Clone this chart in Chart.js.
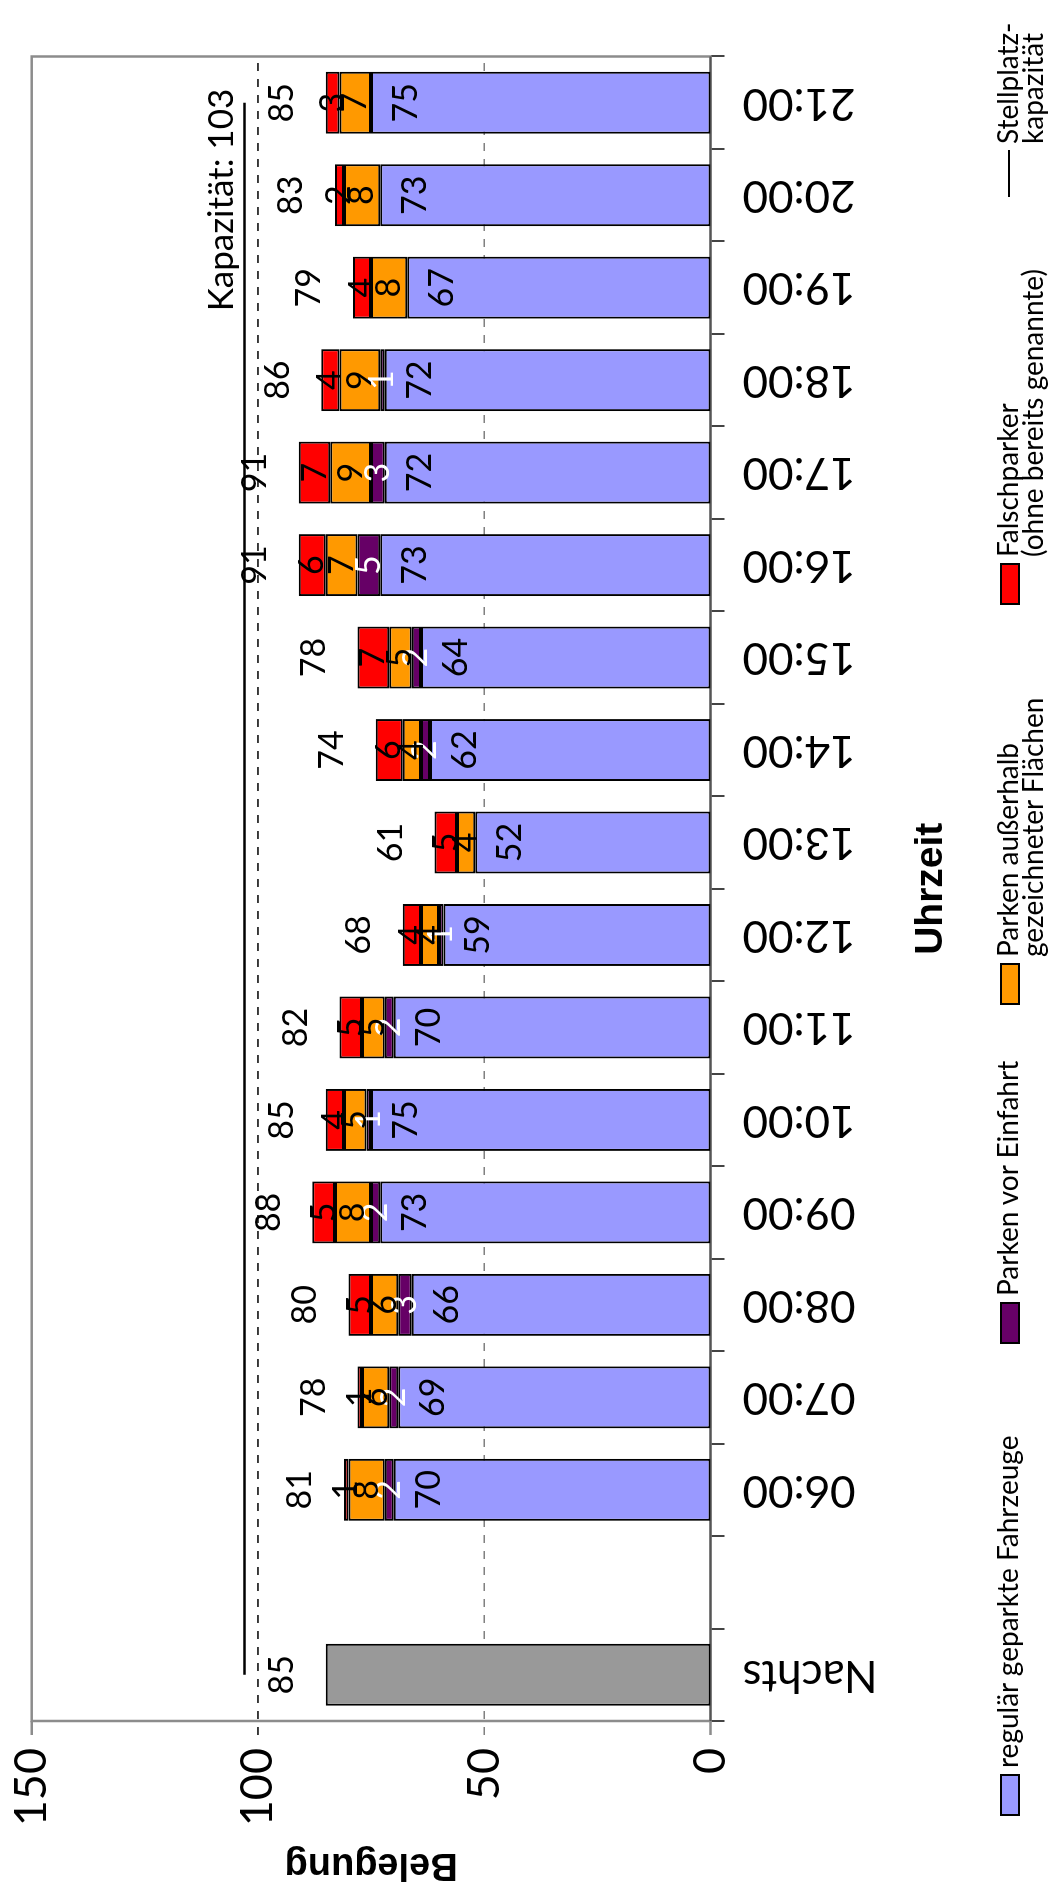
<!DOCTYPE html>
<html>
<head>
<meta charset="utf-8">
<title>Belegung nach Uhrzeit</title>
<script src="https://cdn.jsdelivr.net/npm/chart.js@4.4.0/dist/chart.umd.min.js"></script>
<style>
    html, body { margin: 0; padding: 0; background: #fff; overflow: hidden; }
    /* chart is laid out landscape and turned a quarter to the left */
    #page {
        position: absolute; left: 0; top: 0;
        width: 1898px; height: 1057px;
        transform-origin: 0 0;
        transform: translateY(1898px) rotate(-90deg);
    }
    #chart { position: absolute; left: 0; top: 0; }
    .leg-text {
        position: absolute;
        font-family: Lato, sans-serif; font-size: 28px; line-height: 25px;
        color: #000; white-space: nowrap;
    }
    .leg-box { position: absolute; border: 2px solid #000; box-sizing: border-box; }
    .leg-line { position: absolute; height: 2px; background: #000; }
</style>
</head>
<body>
<div id="page">
    <canvas id="chart" width="1898" height="1057"></canvas>
    <div id="legend"></div>
</div>
<script>
/* Belegung je Uhrzeit — gestapelte Säulen */

const categories = ["Nachts", "", "06:00", "07:00", "08:00", "09:00", "10:00", "11:00", "12:00",
    "13:00", "14:00", "15:00", "16:00", "17:00", "18:00", "19:00", "20:00", "21:00"];
const nachts      = [85, null, null, null, null, null, null, null, null, null, null, null, null, null, null, null, null, null];
const regulaer    = [null, null, 70, 69, 66, 73, 75, 70, 59, 52, 62, 64, 73, 72, 72, 67, 73, 75];
const vorEinfahrt = [null, null, 2, 2, 3, 2, 1, 2, 1, 0, 2, 2, 5, 3, 1, 0, 0, 0];
const ausserhalb  = [null, null, 8, 6, 6, 8, 5, 5, 4, 4, 4, 5, 7, 9, 9, 8, 8, 7];
const falsch      = [null, null, 1, 1, 5, 5, 4, 5, 4, 5, 6, 7, 6, 7, 4, 4, 2, 3];
const kapazitaet = 103;
const valueTicks = [0, 50, 100, 150];

const legendItems = [
    { text: ["regulär geparkte Fahrzeuge"], color: "#9999FF" },
    { text: ["Parken vor Einfahrt"], color: "#660066" },
    { text: ["Parken außerhalb", "gezeichneter Flächen"], color: "#FF9900" },
    { text: ["Falschparker", "(ohne bereits genannte)"], color: "#FF0000" },
    { text: ["Stellplatz-", "kapazität"], line: true }
];
const legendLeft = [82, 554, 893, 1293, 1701];

const capacityLine = categories.map(() => kapazitaet);

const FONT = "Lato, sans-serif";

function barSet(label, data, color) {
    return {
        label: label,
        data: data,
        backgroundColor: color,
        borderColor: "#000",
        borderWidth: 2,
        borderSkipped: false,
        barPercentage: 0.67,
        categoryPercentage: 1,
        stack: "belegung"
    };
}

const framePlugin = {
    id: "frame",
    beforeDatasetsDraw(chart) {
        const { ctx, chartArea: a } = chart;
        const y = chart.scales.y;
        ctx.save();
        // dashed reference lines at 50 and 100
        [[50, "#808080"], [100, "#000"]].forEach(([v, col]) => {
            const py = y.getPixelForValue(v);
            ctx.strokeStyle = col;
            ctx.lineWidth = 1.5;
            ctx.setLineDash([8, 8]);
            ctx.beginPath();
            ctx.moveTo(a.left - 14, py);
            ctx.lineTo(a.right, py);
            ctx.stroke();
        });
        ctx.setLineDash([]);
        // outer frame
        ctx.strokeStyle = "#8c8c8c";
        ctx.lineWidth = 2.5;
        ctx.strokeRect(a.left, a.top, a.right - a.left, a.bottom - a.top);
        ctx.beginPath();
        ctx.moveTo(a.left - 14, a.top);
        ctx.lineTo(a.left, a.top);
        ctx.moveTo(a.left - 14, a.bottom);
        ctx.lineTo(a.left, a.bottom);
        ctx.stroke();
        // zero axis
        ctx.strokeStyle = "#555";
        ctx.lineWidth = 2;
        ctx.beginPath();
        ctx.moveTo(a.left, a.bottom);
        ctx.lineTo(a.right, a.bottom);
        ctx.stroke();
        ctx.restore();
    }
};

const labelPlugin = {
    id: "valueLabels",
    afterDatasetsDraw(chart) {
        const { ctx } = chart;
        const y = chart.scales.y;
        const x = chart.scales.x;
        ctx.save();
        ctx.font = "34px " + FONT;
        ctx.textAlign = "center";
        ctx.textBaseline = "middle";

        // segment values (datasets 1..4)
        [1, 2, 3, 4].forEach(di => {
            const meta = chart.getDatasetMeta(di);
            const data = chart.data.datasets[di].data;
            meta.data.forEach((el, i) => {
                const v = data[i];
                if (v == null || v === 0) return;
                const ty = di === 1 ? el.y + 35 : (el.y + el.base) / 2;
                ctx.fillStyle = di === 2 ? "#fff" : "#000";
                ctx.fillText(String(v), el.x, ty);
            });
        });

        // totals above each column
        ctx.fillStyle = "#000";
        categories.forEach((c, i) => {
            const total = [nachts, regulaer, vorEinfahrt, ausserhalb, falsch]
                .reduce((s, arr) => s + (arr[i] || 0), 0);
            if (!total) return;
            ctx.fillText(String(total), x.getPixelForValue(i), y.getPixelForValue(total) - 43.5);
        });

        // capacity caption
        ctx.textAlign = "right";
        ctx.textBaseline = "alphabetic";
        ctx.font = "35px " + FONT;
        ctx.fillText("Kapazität: " + kapazitaet, x.getPixelForValue(categories.length - 1) + 14,
            y.getPixelForValue(kapazitaet) - 11);
        ctx.restore();
    }
};

function buildLegend() {
    const box = document.getElementById("legend");
    legendItems.forEach((item, k) => {
        const left = legendLeft[k];
        if (item.line) {
            const ln = document.createElement("div");
            ln.className = "leg-line";
            ln.style.left = left + "px";
            ln.style.width = "47px";
            ln.style.top = "1008px";
            box.appendChild(ln);
        } else {
            const sw = document.createElement("div");
            sw.className = "leg-box";
            sw.style.left = left + "px";
            sw.style.top = "1000px";
            sw.style.width = "42px";
            sw.style.height = "20px";
            sw.style.background = item.color;
            box.appendChild(sw);
        }
        const t = document.createElement("div");
        t.className = "leg-text";
        t.style.left = (left + (item.line ? 53 : 48)) + "px";
        t.style.top = "995px";
        t.innerHTML = item.text.join("<br>");
        box.appendChild(t);
    });
}

document.addEventListener("DOMContentLoaded", () => {
    buildLegend();

    new Chart(document.getElementById("chart"), {
        type: "bar",
        data: {
            labels: categories,
            datasets: [
                barSet("Nachts", nachts, "#999999"),
                barSet("regulär geparkte Fahrzeuge", regulaer, "#9999FF"),
                barSet("Parken vor Einfahrt", vorEinfahrt, "#660066"),
                barSet("Parken außerhalb gezeichneter Flächen", ausserhalb, "#FF9900"),
                barSet("Falschparker", falsch, "#FF0000"),
                {
                    type: "line",
                    label: "Stellplatzkapazität",
                    data: capacityLine,
                    borderColor: "#000",
                    borderWidth: 2.5,
                    pointRadius: 0,
                    fill: false,
                    stack: "kapazitaet"
                }
            ]
        },
        options: {
            responsive: false,
            animation: false,
            layout: { padding: { left: 0, top: 31.7, right: 56.5, bottom: 0 } },
            plugins: {
                legend: { display: false },
                tooltip: { enabled: false }
            },
            scales: {
                x: {
                    stacked: true,
                    grid: { display: true, drawOnChartArea: false, drawTicks: true, tickLength: 14, color: "#444", lineWidth: 2, offset: true },
                    border: { display: false },
                    ticks: {
                        color: "#000",
                        font: { family: FONT, size: 44 },
                        minRotation: 90, maxRotation: 90,
                        autoSkip: false,
                        padding: 18
                    },
                    title: {
                        display: true,
                        text: "Uhrzeit",
                        color: "#000",
                        font: { family: "Liberation Sans", size: 39, weight: "bold" },
                        padding: { top: 0, bottom: 102 }
                    },
                    afterFit: s => {
                        s.height = 1057 - 710.5;
                        s.paddingLeft = 0;
                        s.paddingRight = 0;
                    }
                },
                y: {
                    stacked: true,
                    min: 0, max: 150,
                    grid: { display: false, drawTicks: false },
                    border: { display: false },
                    afterBuildTicks: s => { s.ticks = valueTicks.map(v => ({ value: v })); },
                    ticks: {
                        color: "#000",
                        font: { family: FONT, size: 45 },
                        padding: 27
                    },
                    title: {
                        display: true,
                        text: "Belegung",
                        color: "#000",
                        font: { family: "Liberation Sans", size: 38, weight: "bold" },
                        padding: { top: 11, bottom: 0 }
                    },
                    afterFit: s => {
                        s.width = 177;
                        s.paddingTop = 0;
                        s.paddingBottom = 0;
                    }
                }
            }
        },
        plugins: [framePlugin, labelPlugin]
    });
});
</script>
</body>
</html>
